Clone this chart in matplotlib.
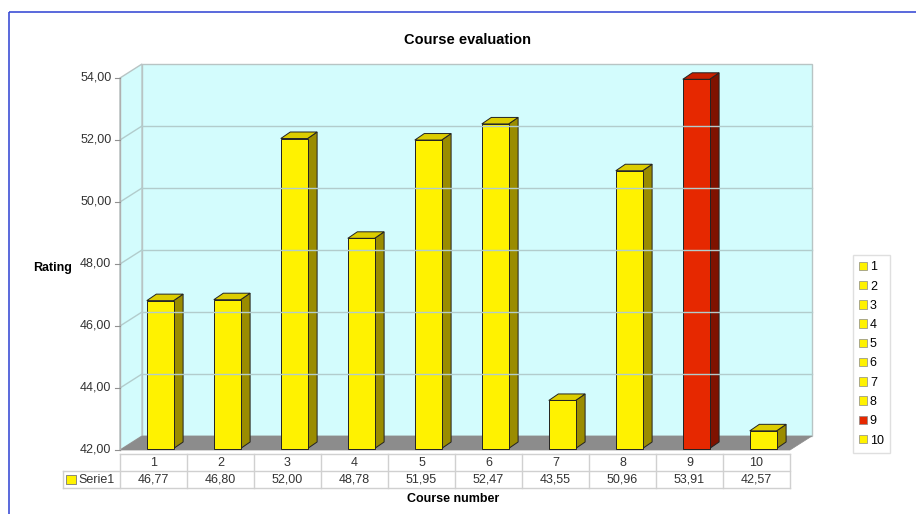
import matplotlib.pyplot as plt
from matplotlib.patches import Polygon, Patch, Rectangle

plt.rcParams['font.family'] = ['Liberation Sans', 'DejaVu Sans']

# course ratings
courses = ['1', '2', '3', '4', '5', '6', '7', '8', '9', '10']
ratings = [46.77, 46.80, 52.00, 48.78, 51.95, 52.47, 43.55, 50.96, 53.91, 42.57]
highlight = '9'
series_name = 'Serie1'
yticks = [42, 44, 46, 48, 50, 52, 54]

YELLOW, YELLOW_TOP, YELLOW_SIDE = '#fff200', '#dccd00', '#9a8c00'
RED, RED_TOP, RED_SIDE = '#e62800', '#c82000', '#7e1200'

W, H = 916, 514
fig = plt.figure(figsize=(W / 100, H / 100), dpi=100)

# outer frame
frame = fig.add_axes([0, 0, 1, 1])
frame.set_xlim(0, W)
frame.set_ylim(H, 0)
frame.axis('off')
frame.add_patch(Rectangle((9, 12), W + 20, H + 20, fill=False,
                          edgecolor='#3d4fd6', lw=1.2))

# front plane of the chart: x in category slots, y in rating units
ax = fig.add_axes([120 / W, (H - 450) / H, 670 / W, 372 / H])
ax.set_xlim(0, len(courses))
ax.set_ylim(42, 54)
ax.axis('off')

# depth of the box and of each bar (data units)
dx, dy = 22 / 67, 14 / 31
bdx, bdy = 9.5 / 67, 6.5 / 31
lift = 1.5 / 31
n = len(courses)
lo, hi = yticks[0], yticks[-1]

wall = '#d3fcfd'
ax.add_patch(Polygon([(dx, lo + dy), (n + dx, lo + dy), (n + dx, hi + dy), (dx, hi + dy)],
                     closed=True, facecolor=wall, edgecolor='#b8c4c4', lw=1.0, clip_on=False))
ax.add_patch(Polygon([(0, lo), (dx, lo + dy), (dx, hi + dy), (0, hi)],
                     closed=True, facecolor=wall, edgecolor='#b8c4c4', lw=1.0, clip_on=False))
for v in yticks[1:-1]:
    ax.plot([dx, n + dx], [v + dy, v + dy], color='#b2cccc', lw=1.0, clip_on=False)
    ax.plot([0, dx], [v, v + dy], color='#b2cccc', lw=1.0, clip_on=False)
ax.add_patch(Polygon([(0, lo), (n, lo), (n + dx, lo + dy), (dx, lo + dy)],
                     closed=True, facecolor='#8c8c8c', edgecolor='#8c8c8c', lw=0.5, clip_on=False))

# y axis ticks and labels
ax.plot([0, 0], [lo, hi], color='#b0b0b0', lw=1.0, clip_on=False)
for v in yticks:
    ax.plot([-0.08, 0], [v, v], color='#909090', lw=0.8, clip_on=False)
    ax.text(-0.13, v, f'{v:.2f}'.replace('.', ','), ha='right', va='center',
            fontsize=9, color='#333333')

# bars
for i, (c, v) in enumerate(zip(courses, ratings)):
    front, top, side = (RED, RED_TOP, RED_SIDE) if c == highlight else (YELLOW, YELLOW_TOP, YELLOW_SIDE)
    x0, x1 = i + 0.40, i + 0.80
    b, t = lo + lift, v + lift
    ax.add_patch(Polygon([(x1, b), (x1 + bdx, b + bdy), (x1 + bdx, t + bdy), (x1, t)],
                         closed=True, facecolor=side, edgecolor='#222222', lw=0.7, clip_on=False))
    ax.add_patch(Polygon([(x0, t), (x1, t), (x1 + bdx, t + bdy), (x0 + bdx, t + bdy)],
                         closed=True, facecolor=top, edgecolor='#222222', lw=0.7, clip_on=False))
    ax.add_patch(Rectangle((x0, b), x1 - x0, t - b, facecolor=front,
                           edgecolor='#222222', lw=0.7, clip_on=False))

# data table under the chart
tx0 = -57 / 67
tab = fig.add_axes([63 / W, (H - 488) / H, 727 / W, 34 / H])
tab.set_xlim(tx0, n)
tab.set_ylim(0, 2)
tab.axis('off')
grid = '#d0d0d0'
tab.plot([0, n], [2, 2], color=grid, lw=1.0, clip_on=False)
tab.plot([tx0, n], [1, 1], color=grid, lw=1.0, clip_on=False)
tab.plot([tx0, n], [0, 0], color=grid, lw=1.0, clip_on=False)
tab.plot([tx0, tx0], [0, 1], color=grid, lw=1.0, clip_on=False)
for k in range(n + 1):
    tab.plot([k, k], [0, 2], color=grid, lw=1.0, clip_on=False)
for i, (c, v) in enumerate(zip(courses, ratings)):
    tab.text(i + 0.5, 1.5, c, ha='center', va='center', fontsize=9, color='#333333')
    tab.text(i + 0.5, 0.5, f'{v:.2f}'.replace('.', ','), ha='center', va='center',
             fontsize=9, color='#333333')
tab.add_patch(Rectangle((tx0 + 0.05, 0.25), 0.15, 0.5, facecolor=YELLOW,
                        edgecolor='#777777', lw=0.6, clip_on=False))
tab.text(tx0 + 0.23, 0.48, series_name, ha='left', va='center', fontsize=9, color='#333333')

# titles
fig.text(467 / W, 1 - 40 / H, 'Course evaluation', ha='center', va='center',
         fontsize=10.5, fontweight='bold')
fig.text(53 / W, 1 - 268 / H, 'Rating', ha='center', va='center',
         fontsize=9, fontweight='bold')
fig.text(453 / W, 1 - 499 / H, 'Course number', ha='center', va='center',
         fontsize=9, fontweight='bold')

# legend
handles = [Patch(facecolor=RED if c == highlight else YELLOW, edgecolor='#888888', lw=0.5, label=c)
           for c in courses]
leg = fig.legend(handles=handles, loc='upper left', bbox_to_anchor=(853 / W, 1 - 255 / H),
                 fontsize=9, frameon=True, fancybox=False, handlelength=0.65, handleheight=0.65,
                 handletextpad=0.2, labelspacing=0.58, borderpad=0.5, borderaxespad=0)
leg.get_frame().set_edgecolor('#d8d8d8')
leg.get_frame().set_linewidth(1.0)

fig.savefig('out.png', dpi=100)
